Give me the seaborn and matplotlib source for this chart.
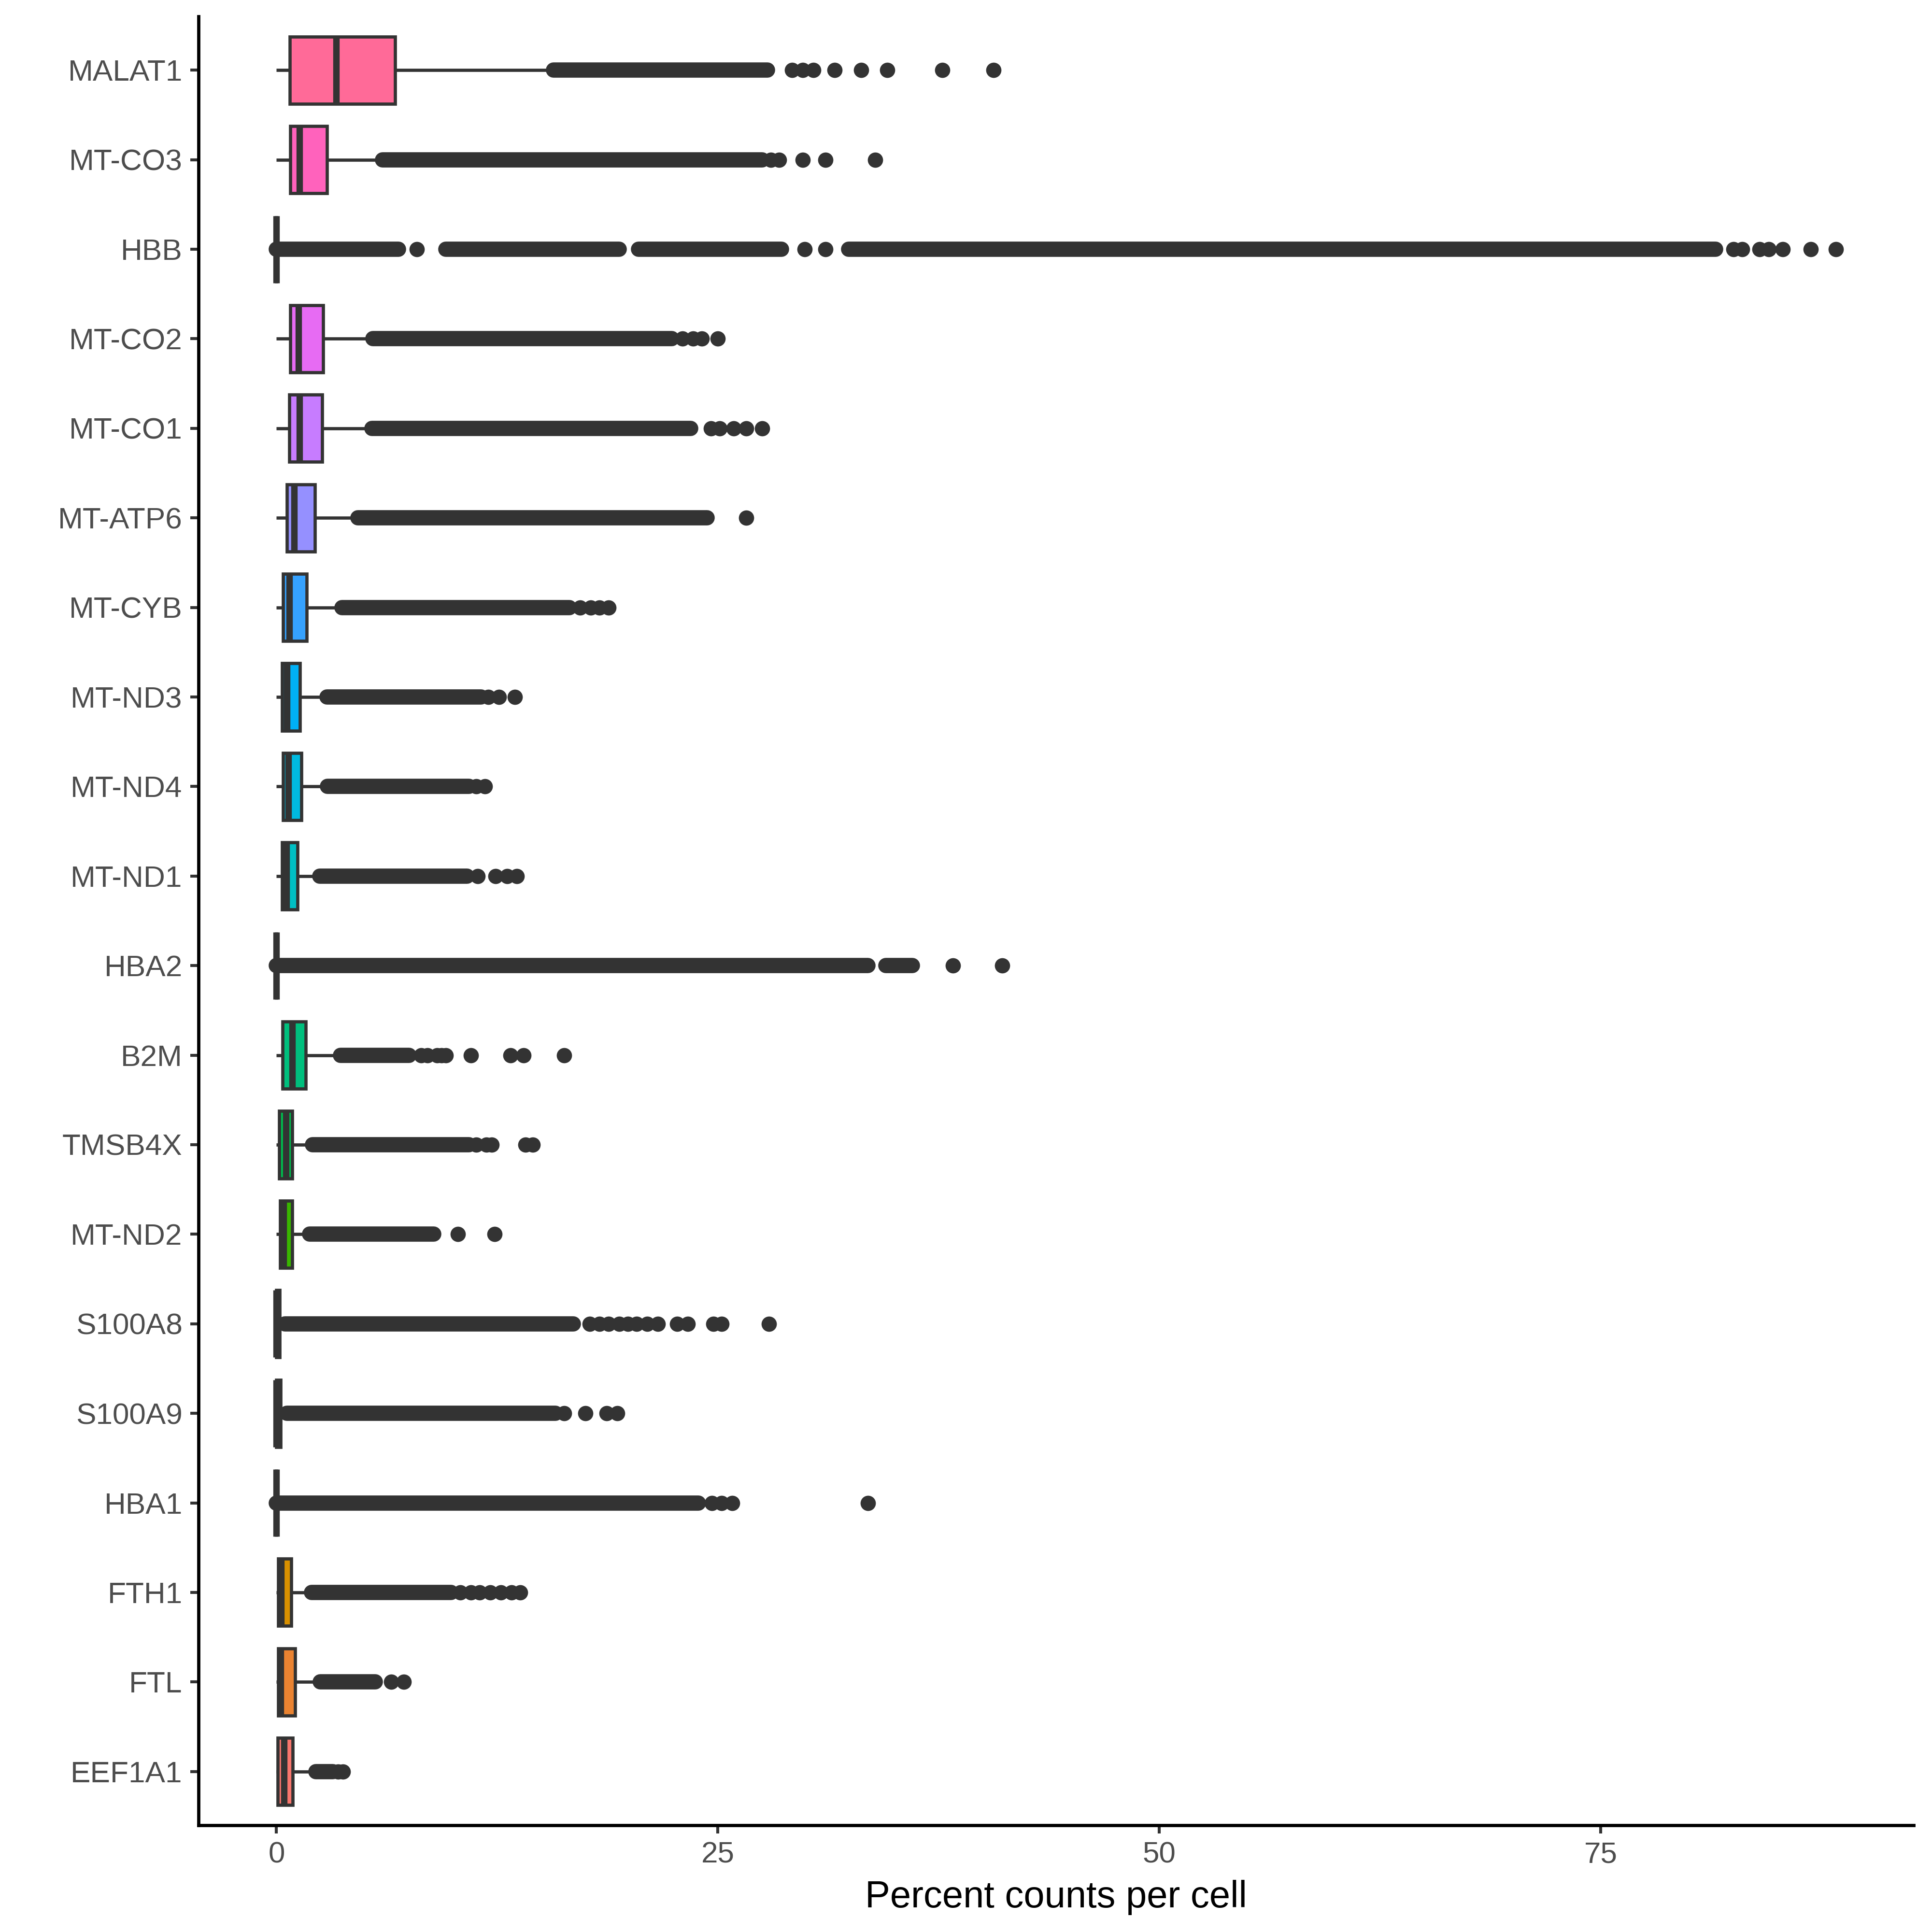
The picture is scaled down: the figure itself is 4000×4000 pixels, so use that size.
import numpy as np
import pandas as pd
import matplotlib
matplotlib.use("Agg")
import matplotlib.pyplot as plt
import seaborn as sns

# genes, top to bottom
genes = ["MALAT1", "MT-CO3", "HBB", "MT-CO2", "MT-CO1", "MT-ATP6", "MT-CYB",
         "MT-ND3", "MT-ND4", "MT-ND1", "HBA2", "B2M", "TMSB4X", "MT-ND2",
         "S100A8", "S100A9", "HBA1", "FTH1", "FTL", "EEF1A1"]

# box statistics (percent counts per cell)
q1 = [0.76, 0.78, 0.0, 0.78, 0.74, 0.60, 0.37, 0.32, 0.37, 0.31,
      0.0, 0.35, 0.14, 0.21, 0.0, 0.0, 0.0, 0.09, 0.09, 0.07]
med = [3.38, 1.30, 0.0, 1.24, 1.30, 0.99, 0.73, 0.60, 0.67, 0.56,
       0.0, 0.90, 0.54, 0.39, 0.0, 0.0, 0.0, 0.25, 0.24, 0.42]
q3 = [6.71, 2.86, 0.0, 2.63, 2.58, 2.19, 1.70, 1.33, 1.40, 1.18,
      0.0, 1.65, 0.90, 0.88, 0.18, 0.23, 0.0, 0.85, 1.05, 0.93]
whisk_hi = [15.6, 5.9, 0.0, 5.35, 5.3, 4.5, 3.65, 2.8, 2.85, 2.42,
            0.0, 3.58, 2.0, 1.83, 0.44, 0.55, 0.0, 1.94, 2.44, 2.19]

# dense runs of outliers (they merge into a solid streak)
streak_gene = ["MALAT1", "MT-CO3", "HBB", "HBB", "HBB", "HBB", "MT-CO2", "MT-CO1",
               "MT-ATP6", "MT-CYB", "MT-ND3", "MT-ND4", "MT-ND1", "HBA2", "HBA2",
               "B2M", "TMSB4X", "MT-ND2", "S100A8", "S100A9", "HBA1", "FTH1",
               "FTL", "EEF1A1"]
streak_start = [15.7, 6.0, 0.0, 9.6, 20.5, 32.4, 5.45, 5.4, 4.6, 3.7, 2.85, 2.9,
                2.45, 0.0, 34.5, 3.62, 2.05, 1.88, 0.48, 0.6, 0.0, 1.98, 2.48, 2.22]
streak_end = [27.8, 27.5, 6.9, 19.4, 28.6, 81.5, 22.4, 23.45, 24.4, 16.6, 11.6, 10.9,
              10.8, 33.5, 36.0, 7.5, 10.9, 8.9, 16.8, 15.8, 23.9, 9.9, 5.6, 3.2]

# separate outlier points
outliers = [
    [29.2, 29.8, 30.4, 31.6, 33.1, 34.6, 37.7, 40.6],
    [28.0, 28.45, 29.8, 31.1, 33.9],
    [7.95, 29.9, 31.1, 82.5, 83.0, 84.0, 84.5, 85.3, 86.9, 88.3],
    [23.0, 23.6, 24.1, 25.0],
    [24.6, 25.1, 25.9, 26.6, 27.5],
    [26.6],
    [17.2, 17.8, 18.3, 18.8],
    [12.0, 12.6, 13.5],
    [11.3, 11.8],
    [11.4, 12.4, 13.05, 13.6],
    [38.3, 41.1],
    [8.2, 8.55, 9.1, 9.35, 9.6, 11.0, 13.25, 14.0, 16.3],
    [11.3, 11.9, 12.2, 14.1, 14.5],
    [10.26, 12.34],
    [17.75, 18.3, 18.8, 19.4, 19.9, 20.4, 21.0, 21.6, 22.7, 23.3, 24.75, 25.2, 27.9],
    [16.3, 17.5, 18.7, 19.3],
    [24.65, 25.2, 25.8, 33.5],
    [10.4, 11.0, 11.5, 12.1, 12.7, 13.3, 13.8],
    [6.5, 7.2],
    [3.5, 3.75],
]

colors = ["#FF6A98", "#FF62BC", "#FA62DB", "#E76BF3", "#C77CFF", "#9590FF", "#35A2FF",
          "#00B0F6", "#00BAE0", "#00BFC4", "#00C1A3", "#00BF7D", "#00BB4E", "#39B600",
          "#7CAE00", "#A3A500", "#C09B00", "#D89000", "#EA8331", "#F8766D"]

# long table: each quantile repeated so the box stats come out as read
w = 1000
rows = []
for i, g in enumerate(genes):
    vals = [0.0] * w + [q1[i]] * w + [med[i]] * w + [q3[i]] * w + [whisk_hi[i]] * w
    vals += outliers[i]
    rows.append(pd.DataFrame({"gene": g, "value": vals}))
df = pd.concat(rows, ignore_index=True)

plt.rcParams["font.family"] = ["Liberation Sans", "DejaVu Sans"]

fig = plt.figure(figsize=(10, 10), dpi=400)
ax = fig.add_axes([0.10275, 0.05525, 0.88775, 0.93625])

dark = "#333333"
sns.boxplot(data=df, x="value", y="gene", hue="gene", order=genes, hue_order=genes,
            palette=dict(zip(genes, colors)), legend=False, saturation=1,
            width=0.75, showcaps=False, linewidth=1.2, linecolor=dark,
            medianprops={"linewidth": 2.4, "color": dark},
            flierprops={"marker": "o", "markersize": 5.7, "markerfacecolor": dark,
                        "markeredgecolor": dark, "markeredgewidth": 0},
            ax=ax)

ypos = [genes.index(g) for g in streak_gene]
ax.hlines(ypos, streak_start, streak_end, colors=dark, linewidth=5.7,
          capstyle="round", zorder=4)

xmax = max(max(o) for o in outliers)
ax.set_xlim(-0.05 * xmax, 1.05 * xmax)
ax.set_ylim(len(genes) - 0.4, -0.6)
ax.set_xticks([0, 25, 50, 75])
ax.set_xticklabels(["0", "25", "50", "75"])

for s in ["top", "right"]:
    ax.spines[s].set_visible(False)
for s in ["left", "bottom"]:
    ax.spines[s].set_linewidth(1.22)
    ax.spines[s].set_color("black")

ax.tick_params(axis="both", colors=dark, labelcolor="#4D4D4D", labelsize=11.2,
               width=1.1, length=3.0, pad=3.0)
ax.set_xlabel("Percent counts per cell", fontsize=14, color="black", labelpad=4)
ax.set_ylabel("")

fig.savefig("out.png", dpi=400)
